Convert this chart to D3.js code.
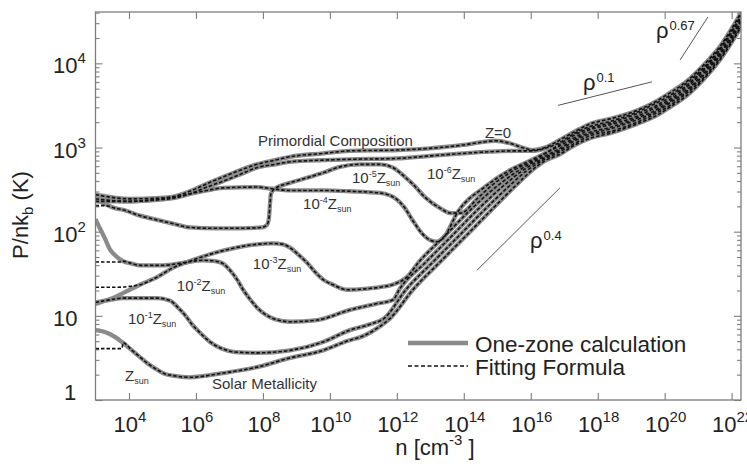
<!DOCTYPE html>
<html>
<head>
<meta charset="utf-8">
<script src="https://cdnjs.cloudflare.com/ajax/libs/d3/7.8.5/d3.min.js"></script>
<style>
  body { margin: 0; background: #fff; }
  text { font-family: "Liberation Sans", Arial, Helvetica, sans-serif; }
</style>
</head>
<body>
<svg id="chart" width="747" height="476"></svg>
<script>
// all curve points are [log10 n, log10 (P/nk_b)]
const xTickExp = [4, 6, 8, 10, 12, 14, 16, 18, 20, 22];
const yTickExp = [0, 1, 2, 3, 4];

const zSun = [[3.00,0.83],[3.34,0.80],[3.58,0.75],[3.82,0.68],[4.09,0.59],[4.33,0.51],[4.57,0.43],[4.84,0.36],[5.08,0.31],[5.31,0.29],[5.82,0.27],[6.81,0.32],[7.82,0.39],[8.81,0.50],[9.80,0.59],[10.51,0.70],[11.05,0.77],[11.44,0.86],[11.80,0.97],[12.48,1.31],[13.29,1.64],[14.04,1.94],[14.78,2.24],[15.53,2.54],[16.04,2.73],[16.46,2.85],[16.87,2.92],[17.32,3.03],[17.77,3.11],[18.37,3.17],[19.17,3.28],[19.71,3.37],[20.16,3.48],[20.67,3.62],[21.14,3.80],[21.65,4.04],[22.28,4.43]];
const z1 = [[3.00,1.16],[3.43,1.19],[3.82,1.21],[4.84,1.21],[5.23,1.18],[5.46,1.10],[5.67,1.01],[5.88,0.90],[6.12,0.80],[6.42,0.69],[6.78,0.61],[7.17,0.57],[7.82,0.56],[8.81,0.59],[9.80,0.69],[10.60,0.83],[11.20,0.90],[11.62,0.97],[12.27,1.31],[13.08,1.64],[13.83,1.94],[14.57,2.24],[15.35,2.54],[15.90,2.73],[16.37,2.85],[16.87,2.95],[17.32,3.05],[17.77,3.14],[18.37,3.19],[19.17,3.30],[19.71,3.40],[20.16,3.50],[20.67,3.65],[21.14,3.82],[21.65,4.06],[22.28,4.45]];
const z2 = [[3.00,2.15],[3.13,2.04],[3.28,1.92],[3.43,1.79],[3.61,1.71],[3.82,1.65],[4.09,1.62],[4.33,1.60],[5.02,1.60],[5.61,1.63],[6.21,1.66],[6.57,1.65],[6.81,1.62],[7.02,1.54],[7.23,1.43],[7.41,1.31],[7.61,1.20],[7.82,1.10],[8.06,1.02],[8.36,0.96],[8.81,0.93],[9.62,0.95],[10.60,1.07],[11.35,1.14],[11.89,1.19],[12.07,1.31],[12.87,1.64],[13.62,1.94],[14.36,2.24],[15.17,2.54],[15.77,2.73],[16.28,2.85],[16.87,2.97],[17.32,3.08],[17.77,3.16],[18.37,3.22],[19.17,3.33],[19.71,3.42],[20.16,3.53],[20.67,3.67],[21.14,3.85],[21.65,4.09],[22.28,4.48]];
const z3 = [[3.00,1.14],[3.28,1.18],[3.58,1.22],[3.82,1.27],[4.33,1.37],[4.84,1.46],[5.31,1.57],[5.82,1.65],[6.33,1.72],[6.87,1.78],[7.32,1.82],[7.82,1.85],[8.30,1.86],[8.60,1.85],[8.81,1.81],[9.05,1.73],[9.32,1.63],[9.56,1.52],[9.80,1.43],[10.09,1.37],[10.51,1.31],[11.05,1.32],[11.50,1.34],[11.95,1.38],[12.30,1.46],[12.66,1.64],[13.41,1.94],[14.15,2.24],[14.99,2.54],[15.65,2.73],[16.19,2.85],[16.87,2.99],[17.32,3.10],[17.77,3.18],[18.37,3.24],[19.17,3.35],[19.71,3.44],[20.16,3.55],[20.67,3.69],[21.14,3.87],[21.65,4.11],[22.28,4.50]];
const z4 = [[3.00,2.36],[4.03,2.36],[4.93,2.39],[5.37,2.41],[5.82,2.45],[6.33,2.49],[6.81,2.52],[7.82,2.53],[8.27,2.51],[8.81,2.49],[9.80,2.49],[10.60,2.48],[11.50,2.46],[12.01,2.38],[12.24,2.28],[12.48,2.13],[12.75,1.98],[12.99,1.90],[13.20,1.88],[13.38,1.92],[13.83,2.24],[14.66,2.54],[15.38,2.73],[16.01,2.85],[16.87,3.02],[17.32,3.12],[17.77,3.21],[18.37,3.27],[19.17,3.37],[19.71,3.47],[20.16,3.57],[20.67,3.72],[21.14,3.90],[21.65,4.13],[22.28,4.52]];
const z5 = [[3.00,2.38],[3.28,2.33],[3.58,2.28],[3.82,2.26],[4.33,2.19],[4.84,2.14],[5.37,2.09],[5.82,2.05],[6.57,2.04],[7.32,2.04],[7.97,2.05],[8.12,2.08],[8.18,2.16],[8.21,2.32],[8.24,2.45],[8.36,2.51],[8.81,2.58],[9.32,2.64],[9.80,2.70],[10.30,2.77],[10.90,2.80],[11.50,2.80],[11.89,2.76],[12.24,2.65],[12.54,2.54],[12.84,2.41],[13.29,2.28],[13.62,2.22],[13.90,2.22],[14.42,2.40],[14.81,2.54],[15.50,2.73],[16.10,2.85],[16.87,3.04],[17.32,3.15],[17.77,3.23],[18.37,3.29],[19.17,3.40],[19.71,3.49],[20.16,3.60],[20.67,3.74],[21.14,3.92],[21.65,4.16],[22.28,4.55]];
const z6 = [[3.00,2.39],[4.03,2.36],[4.93,2.38],[5.37,2.40],[5.82,2.45],[6.33,2.53],[6.81,2.60],[7.32,2.68],[7.82,2.76],[8.36,2.80],[8.81,2.83],[9.80,2.85],[10.60,2.86],[12.01,2.87],[12.99,2.90],[13.98,2.93],[14.78,2.95],[15.53,2.96],[16.04,2.96],[16.43,2.99],[16.87,3.06],[17.32,3.17],[17.77,3.25],[18.37,3.31],[19.17,3.42],[19.71,3.52],[20.16,3.62],[20.67,3.77],[21.14,3.94],[21.65,4.18],[22.28,4.57]];
const z0 = [[3.00,2.44],[4.03,2.39],[4.93,2.40],[5.37,2.42],[5.82,2.48],[6.33,2.57],[6.81,2.65],[7.32,2.73],[7.82,2.80],[8.36,2.85],[8.81,2.89],[9.80,2.93],[10.60,2.96],[12.01,2.97],[12.99,2.99],[13.98,3.03],[14.48,3.06],[14.93,3.08],[15.38,3.05],[15.74,3.00],[16.04,2.97],[16.43,3.00],[16.87,3.09],[17.32,3.19],[17.77,3.28],[18.37,3.34],[19.17,3.44],[19.71,3.54],[20.16,3.65],[20.67,3.79],[21.14,3.97],[21.65,4.20],[22.28,4.60]];

// fitting formula differs from the one-zone run only at the low density end
const fitHeadSun = [[3.00,0.61],[3.79,0.61]];
const fitHead2 = [[3.00,1.64],[3.43,1.64],[3.73,1.64]];
const fitHead3 = [[3.00,1.34],[3.64,1.34],[4.03,1.35]];
const fitHead5 = [[3.00,2.31],[3.28,2.31]];

const rho04 = [[14.39,1.54],[16.87,2.52]];
const rho01 = [[16.81,3.50],[19.62,3.78]];
const rho067 = [[20.46,4.04],[21.29,4.55]];

const zPowers = ['-6', '-5', '-4', '-3', '-2', '-1', ''];
const zLabelPos = [[12.90,2.62],[10.66,2.58],[9.20,2.27],[7.70,1.56],[5.43,1.29],[3.97,0.90],[3.88,0.23]];
const slopeNames = ['0.4', '0.1', '0.67'];
const slopeLabelPos = [[15.98,1.81],[17.56,3.68],[19.74,4.30]];

const svg = d3.select('#chart');
const plotLeft = 95.5, plotRight = 741, plotTop = 12, plotBottom = 400;
const x = d3.scaleLog().domain([1e3, 10 ** 22.28]).range([plotLeft, plotRight]);
const y = d3.scaleLog().domain([1, 10 ** 4.61]).range([plotBottom, plotTop]);
const frameColor = '#7d7d7d';
const inkColor = '#222';

function withHead(zone, head) {
  let last = head[head.length - 1][0];
  return head.concat(zone.filter(d => d[0] > last));
}

svg.append('defs').append('clipPath').attr('id', 'plot')
  .append('rect')
  .attr('x', plotLeft).attr('y', plotTop)
  .attr('width', plotRight - plotLeft).attr('height', plotBottom - plotTop);

// ticks
function styleAxis(g) {
  g.select('.domain').remove();
  g.selectAll('line').attr('stroke', frameColor).attr('stroke-width', 1.1);
}
let xMajor = xTickExp.map(e => 10 ** e);
let yMajor = yTickExp.map(e => 10 ** e);
let yMinor = [];
for (let e = 0; e <= 4; e++) {
  for (let m = 2; m <= 9; m++) {
    if (m * 10 ** e < y.domain()[1]) yMinor.push(m * 10 ** e);
  }
}
svg.append('g').attr('transform', `translate(0,${plotBottom})`)
  .call(d3.axisBottom(x).tickValues(xMajor).tickSize(-7).tickFormat('')).call(styleAxis);
svg.append('g').attr('transform', `translate(0,${plotTop})`)
  .call(d3.axisTop(x).tickValues(xMajor).tickSize(-7).tickFormat('')).call(styleAxis);
svg.append('g').attr('transform', `translate(${plotLeft},0)`)
  .call(d3.axisLeft(y).tickValues(yMajor).tickSize(-7).tickFormat('')).call(styleAxis);
svg.append('g').attr('transform', `translate(${plotLeft},0)`)
  .call(d3.axisLeft(y).tickValues(yMinor).tickSize(-4).tickFormat('')).call(styleAxis);
svg.append('g').attr('transform', `translate(${plotRight},0)`)
  .call(d3.axisRight(y).tickValues(yMajor).tickSize(-7).tickFormat('')).call(styleAxis);
svg.append('g').attr('transform', `translate(${plotRight},0)`)
  .call(d3.axisRight(y).tickValues(yMinor).tickSize(-4).tickFormat('')).call(styleAxis);

// tick labels
for (let e of xTickExp) {
  let t = svg.append('text')
    .attr('x', x(10 ** e) + 1).attr('y', plotBottom + 32)
    .attr('text-anchor', 'middle').attr('fill', inkColor).attr('font-size', 22);
  t.append('tspan').text('10');
  t.append('tspan').attr('font-size', 15).attr('dy', -10).text(e);
}
for (let e of yTickExp) {
  let t = svg.append('text').attr('fill', inkColor).attr('font-size', 22);
  if (e === 0) {
    t.attr('x', 70).attr('y', y(1)).attr('text-anchor', 'middle').text('1');
  } else {
    t.attr('x', 53).attr('y', y(10 ** e) + 10);
    t.append('tspan').text('10');
    if (e > 1) t.append('tspan').attr('font-size', 15).attr('dy', -10).text(e);
  }
}

// curves
let line = d3.line()
  .x(d => x(10 ** d[0]))
  .y(d => y(10 ** d[1]))
  .curve(d3.curveMonotoneX);

let zones = [zSun, z1, z2, z3, z4, z5, z6, z0];
let fits = [withHead(zSun, fitHeadSun), z1, withHead(z2, fitHead2), withHead(z3, fitHead3),
  z4, withHead(z5, fitHead5), z6, z0];

let plot = svg.append('g').attr('clip-path', 'url(#plot)');
plot.selectAll('path.zone').data(zones).join('path')
  .attr('class', 'zone')
  .attr('d', line)
  .attr('fill', 'none')
  .attr('stroke', '#8a8a8a')
  .attr('stroke-width', 4.3)
  .attr('stroke-linejoin', 'round');
plot.selectAll('path.fit').data(fits).join('path')
  .attr('class', 'fit')
  .attr('d', line)
  .attr('fill', 'none')
  .attr('stroke', '#111')
  .attr('stroke-width', 1.6)
  .attr('stroke-dasharray', '3.5,2');

plot.selectAll('path.guide').data([rho04, rho01, rho067]).join('path')
  .attr('class', 'guide')
  .attr('d', d3.line().x(d => x(10 ** d[0])).y(d => y(10 ** d[1])))
  .attr('stroke', '#555')
  .attr('stroke-width', 1);

// frame
svg.append('rect')
  .attr('x', plotLeft).attr('y', plotTop)
  .attr('width', plotRight - plotLeft).attr('height', plotBottom - plotTop)
  .attr('fill', 'none').attr('stroke', frameColor).attr('stroke-width', 1.3);

// curve labels
zPowers.forEach((p, i) => {
  let pos = zLabelPos[i];
  let t = svg.append('text')
    .attr('x', x(10 ** pos[0])).attr('y', y(10 ** pos[1]))
    .attr('fill', '#333').attr('font-size', 15);
  if (p) {
    t.append('tspan').text('10');
    t.append('tspan').attr('font-size', 9).attr('dy', -6).text(p);
    t.append('tspan').attr('dy', 6).text('Z');
  } else {
    t.append('tspan').text('Z');
  }
  t.append('tspan').attr('font-size', 9).attr('dy', 3).text('sun');
});

svg.append('text')
  .attr('x', x(10 ** 7.85)).attr('y', y(10 ** 3.02))
  .attr('fill', '#333').attr('font-size', 15)
  .text('Primordial Composition');
svg.append('text')
  .attr('x', x(10 ** 14.63)).attr('y', y(10 ** 3.11))
  .attr('fill', '#333').attr('font-size', 15)
  .text('Z=0');
svg.append('text')
  .attr('x', x(10 ** 6.48)).attr('y', y(10 ** 0.13))
  .attr('fill', '#333').attr('font-size', 15)
  .text('Solar Metallicity');

slopeNames.forEach((s, i) => {
  let pos = slopeLabelPos[i];
  let t = svg.append('text')
    .attr('x', x(10 ** pos[0])).attr('y', y(10 ** pos[1]))
    .attr('fill', inkColor).attr('font-size', 22);
  t.append('tspan').text('ρ');
  t.append('tspan').attr('font-size', 13).attr('dy', -8).attr('dx', 1).text(s);
});

// legend
let legend = svg.append('g').attr('transform', 'translate(408,343)');
legend.append('line').attr('x1', 0).attr('x2', 60).attr('y1', 0).attr('y2', 0)
  .attr('stroke', '#8a8a8a').attr('stroke-width', 4.5);
legend.append('line').attr('x1', 0).attr('x2', 60).attr('y1', 23).attr('y2', 23)
  .attr('stroke', '#111').attr('stroke-width', 1.6).attr('stroke-dasharray', '4,2.5');
legend.append('text').attr('x', 67).attr('y', 8.5)
  .attr('fill', inkColor).attr('font-size', 22.5).text('One-zone calculation');
legend.append('text').attr('x', 67).attr('y', 31.5)
  .attr('fill', inkColor).attr('font-size', 22.5).text('Fitting Formula');

// axis titles
let xt = svg.append('text')
  .attr('x', 435).attr('y', 455)
  .attr('text-anchor', 'middle').attr('fill', inkColor).attr('font-size', 22);
xt.append('tspan').text('n [cm');
xt.append('tspan').attr('font-size', 15).attr('dy', -10).text('-3');
xt.append('tspan').attr('dy', 10).text(' ]');

let yt = svg.append('text')
  .attr('transform', 'translate(28,215) rotate(-90)')
  .attr('text-anchor', 'middle').attr('fill', inkColor).attr('font-size', 22);
yt.append('tspan').text('P/nk');
yt.append('tspan').attr('font-size', 15).attr('dy', 5).text('b');
yt.append('tspan').attr('dy', -5).text(' (K)');
</script>
</body>
</html>
